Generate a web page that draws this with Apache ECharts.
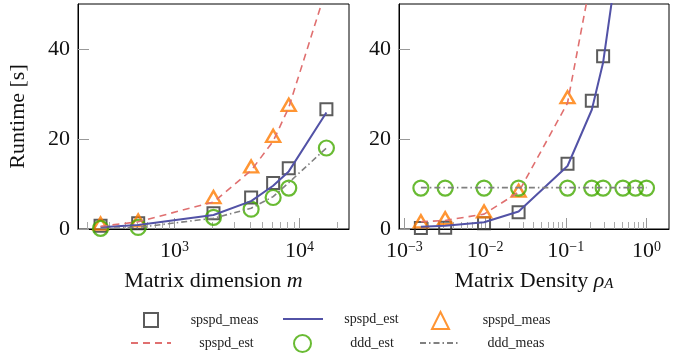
<!DOCTYPE html>
<html>
<head>
<meta charset="utf-8">
<script src="https://cdn.jsdelivr.net/npm/echarts@6/dist/echarts.min.js"></script>
<style>
  html, body { margin: 0; padding: 0; background: #fff; }
  #chart { width: 699px; height: 359px; }
</style>
</head>
<body>
<div id="chart"></div>
<script>
// left panel: runtime [s] over matrix dimension m
const dims = [256, 512, 2048, 4096, 6144, 8192, 16384];
const dimSqMeas = [0.7, 1.3, 3.5, 7.0, 10.2, 13.5, 26.6];
const dimBlueEst = [0.4, 0.9, 3.1, 6.2, 9.6, 12.8, 25.9];
const dimTriMeas = [1.2, 1.9, 7.1, 13.9, 20.7, 27.6];
const dimRedEst = [0.6, 1.6, 6.0, 13.0, 19.5, 27.0, 53.5];
const dimCircEst = [0.15, 0.35, 2.6, 4.4, 7.0, 9.1, 18.0];
const dimGrayMeas = [0.1, 0.35, 2.4, 4.6, 7.2, 10.3, 18.0];

// right panel: runtime [s] over matrix density rho_A
const dens = [0.0016, 0.0032, 0.0097, 0.026, 0.105, 0.21, 0.29, 0.51, 0.73, 1.0];
const densSqMeas = [0.2, 0.3, 1.3, 3.7, 14.5, 28.5, 38.4];
const densBlueEst = [0.5, 0.7, 1.5, 3.9, 14.0, 26.5, 37.0, 68];
const densTriMeas = [1.7, 2.4, 3.9, 8.5, 29.3];
const densRedEst = [1.6, 1.9, 3.3, 8.2, 28.0, 56.5];
const densCircEst = [9.1, 9.1, 9.1, 9.1, 9.1, 9.1, 9.1, 9.1, 9.1, 9.1];
const densGrayMeas = [9.2, 9.2, 9.2, 9.2, 9.2, 9.2, 9.2, 9.2, 9.2, 9.2];

// ticks
const yTicks = [0, 20, 40];
const dimMajor = [1e3, 1e4];
const dimMinor = [200, 300, 400, 500, 600, 700, 800, 900,
  2000, 3000, 4000, 5000, 6000, 7000, 8000, 9000, 20000];
const densMajor = [0.001, 0.01, 0.1, 1];
const densMinor = [0.002, 0.003, 0.004, 0.005, 0.006, 0.007, 0.008, 0.009,
  0.02, 0.03, 0.04, 0.05, 0.06, 0.07, 0.08, 0.09,
  0.2, 0.3, 0.4, 0.5, 0.6, 0.7, 0.8, 0.9];

// legend names (zero-width space keeps the duplicated labels apart)
const N_SQ = 'spspd_meas';
const N_BLUE = 'spspd_est';
const N_TRI = 'spspd_meas\u200b';
const N_RED = 'spspd_est\u200b';
const N_CIRC = 'ddd_est';
const N_GRAY = 'ddd_meas';

const serif = 'Liberation Serif';
const C_SQ = '#333333', C_BLUE = '#5252a6', C_TRI = '#ff7a00',
  C_RED = '#e07070', C_CIRC = '#44aa00', C_GRAY = '#808080';

function pairs(xs, ys) {
  return ys.map((y, i) => [xs[i], y]);
}

function powLabel(v) {
  const e = Math.round(Math.log10(v));
  return '{b|10}{s|' + String(e).replace('-', '\u2212') + '}';
}

const labelRich = {
  b: { fontFamily: serif, fontSize: 22, lineHeight: 22, color: '#111' },
  s: { fontFamily: serif, fontSize: 14, lineHeight: 14, verticalAlign: 'top', color: '#111' }
};

function panelSeries(xIdx, yIdx, xs, sq, blue, tri, red, circ, gray) {
  const common = { xAxisIndex: xIdx, yAxisIndex: yIdx };
  return [
    Object.assign({ name: N_BLUE, type: 'line', data: pairs(xs, blue), symbol: 'none',
      lineStyle: { color: C_BLUE, width: 2 }, itemStyle: { color: C_BLUE } }, common),
    Object.assign({ name: N_RED, type: 'line', data: pairs(xs, red), symbol: 'none',
      lineStyle: { color: C_RED, width: 1.6, type: [7, 5] }, itemStyle: { color: C_RED } }, common),
    Object.assign({ name: N_GRAY, type: 'line', data: pairs(xs, gray), symbol: 'none',
      lineStyle: { color: C_GRAY, width: 1.6, type: [6, 3, 1.5, 3] }, itemStyle: { color: C_GRAY } }, common),
    Object.assign({ name: N_SQ, type: 'scatter', data: pairs(xs, sq), symbol: 'rect', symbolSize: 12,
      itemStyle: { color: 'rgba(0,0,0,0)', borderColor: C_SQ, borderWidth: 2 } }, common),
    Object.assign({ name: N_TRI, type: 'scatter', data: pairs(xs, tri), symbol: 'triangle', symbolSize: [14, 12],
      itemStyle: { color: 'rgba(0,0,0,0)', borderColor: C_TRI, borderWidth: 2.4 } }, common),
    Object.assign({ name: N_CIRC, type: 'scatter', data: pairs(xs, circ), symbol: 'circle', symbolSize: 15,
      itemStyle: { color: 'rgba(0,0,0,0)', borderColor: C_CIRC, borderWidth: 2.2 } }, common)
  ];
}

function mainX(grid, min, max, major, name) {
  return {
    type: 'log', logBase: 10, gridIndex: grid, min: min, max: max, position: 'bottom',
    axisLine: { lineStyle: { color: '#000', width: 1 } },
    axisTick: { inside: true, length: 11, customValues: major, lineStyle: { color: '#999' } },
    axisLabel: { customValues: major, margin: 11, formatter: powLabel, rich: labelRich },
    splitLine: { show: false },
    name: name, nameLocation: 'middle', nameGap: 41,
    nameTextStyle: {
      fontFamily: serif, fontSize: 22, color: '#111',
      rich: {
        i: { fontFamily: serif, fontSize: 22, fontStyle: 'italic', color: '#111' },
        sub: { fontFamily: serif, fontSize: 15, fontStyle: 'italic', verticalAlign: 'bottom', lineHeight: 15, color: '#111' }
      }
    }
  };
}

function minorX(grid, min, max, minor) {
  return {
    type: 'log', logBase: 10, gridIndex: grid, min: min, max: max, position: 'bottom',
    axisLine: { show: false },
    axisTick: { inside: true, length: 7, customValues: minor, lineStyle: { color: '#aaa' } },
    axisLabel: { show: false },
    splitLine: { show: false }
  };
}

function yAx(grid, name) {
  return {
    type: 'value', gridIndex: grid, min: 0, max: 50,
    axisLine: { show: true, lineStyle: { color: '#000', width: 1 } },
    axisTick: { inside: true, length: 11, customValues: yTicks, lineStyle: { color: '#999' } },
    axisLabel: { customValues: yTicks, margin: 8, fontFamily: serif, fontSize: 22, color: '#111' },
    splitLine: { show: false },
    name: name, nameLocation: 'middle', nameGap: 49,
    nameTextStyle: { fontFamily: serif, fontSize: 22, color: '#111' }
  };
}

// legend slots: icon box left/top, icon size, text column width
const legendSlots = [
  { name: N_SQ, left: 143, top: 312, w: 14, h: 14, tw: 123, line: false },
  { name: N_BLUE, left: 282, top: 312, w: 40, h: 14, tw: 87, line: true },
  { name: N_TRI, left: 431, top: 311, w: 17, h: 17, tw: 125, line: false },
  { name: N_RED, left: 130, top: 336, w: 40, h: 14, tw: 101, line: true },
  { name: N_CIRC, left: 293, top: 334, w: 17, h: 17, tw: 112, line: false },
  { name: N_GRAY, left: 419, top: 336, w: 40, h: 14, tw: 102, line: true }
];

const chart = echarts.init(document.getElementById('chart'));

chart.setOption({
  animation: false,
  backgroundColor: '#fff',
  grid: [
    { left: 78, top: 4, width: 271, height: 225, show: true, borderColor: '#000', borderWidth: 1 },
    { left: 399, top: 4, width: 270, height: 225, show: true, borderColor: '#000', borderWidth: 1 }
  ],
  xAxis: [
    mainX(0, 169, 24840, dimMajor, 'Matrix dimension {i|m}'),
    minorX(0, 169, 24840, dimMinor),
    mainX(1, 0.000857, 1.9, densMajor, 'Matrix Density {i|\u03c1}{sub|A}'),
    minorX(1, 0.000857, 1.9, densMinor)
  ],
  yAxis: [yAx(0, 'Runtime [s]'), yAx(1, '')],
  legend: legendSlots.map(s => ({
    data: [s.name], left: s.left, top: s.top, padding: 0,
    itemWidth: s.w, itemHeight: s.h, selectedMode: false,
    itemStyle: s.line ? { opacity: 0 } : {},
    formatter: n => '{t|' + n.replace('\u200b', '') + '}',
    textStyle: {
      rich: { t: { fontFamily: serif, fontSize: 14, color: '#222', width: s.tw, align: 'center' } }
    }
  })),
  series: [].concat(
    panelSeries(0, 0, dims, dimSqMeas, dimBlueEst, dimTriMeas, dimRedEst, dimCircEst, dimGrayMeas),
    panelSeries(2, 1, dens, densSqMeas, densBlueEst, densTriMeas, densRedEst, densCircEst, densGrayMeas)
  )
});
</script>
</body>
</html>
